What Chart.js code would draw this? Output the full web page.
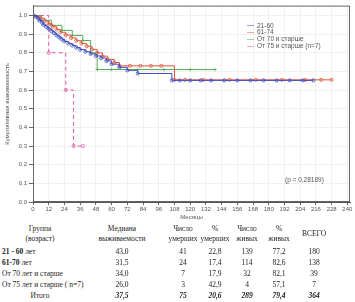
<!DOCTYPE html>
<html>
<head>
<meta charset="utf-8">
<script src="https://cdn.jsdelivr.net/npm/chart.js@4.4.1/dist/chart.umd.min.js"></script>
<style>
    body { margin: 0; background: #fff; }
    #wrap { position: relative; width: 355px; height: 302px; overflow: hidden; }
    #chartBox { position: absolute; left: 0; top: 0; width: 355px; height: 222px; }
    .lg { position: absolute; font: 6.5px "Liberation Sans", Arial, sans-serif; color: #555; white-space: nowrap; line-height: 7px; }
    .lgLine { position: absolute; height: 0; border-top: 1px solid; }
    .cell { position: absolute; font: 7.5px "Liberation Serif", "Times New Roman", serif; color: #222; white-space: nowrap; transform: translate(-50%, -50%); line-height: 9px; }
    .rowLabel { position: absolute; font: 7.5px "Liberation Serif", "Times New Roman", serif; color: #222; white-space: nowrap; transform: translateY(-50%); line-height: 9px; }
    #pText { position: absolute; left: 285px; top: 176px; font: 6.5px "Liberation Sans", Arial, sans-serif; color: #555; }
</style>
</head>
<body>
<div id="wrap">
    <div id="chartBox"><canvas id="kmChart" width="355" height="222"></canvas></div>
    <div id="legendBox"></div>
    <div id="pText">(p = 0,28189)</div>
    <div id="tableBox"></div>
</div>
<script>
// series labels
const seriesLabels = ['21-60', '61-74', 'От 70 и старше', 'От 75 и старше (n=7)'];
const seriesColors = ['#3b4cc0', '#e0563e', '#4fae4f', '#e05aa8'];

// Kaplan-Meier steps (months, cumulative survival)
const monthsA = [0, 2, 4, 5, 7, 8, 10, 12, 14, 16, 18, 20, 22, 24, 27, 30, 33, 36, 40, 44, 48, 52, 56, 60, 66, 72, 80, 106, 112, 120, 128, 136, 146, 156, 166, 176, 186, 196, 206, 214];
const survA  = [1, 0.994, 0.983, 0.972, 0.961, 0.95, 0.939, 0.928, 0.917, 0.906, 0.894, 0.883, 0.872, 0.861, 0.85, 0.839, 0.828, 0.817, 0.806, 0.794, 0.783, 0.772, 0.756, 0.739, 0.722, 0.706, 0.689, 0.652, 0.652, 0.652, 0.652, 0.652, 0.652, 0.652, 0.652, 0.652, 0.652, 0.652, 0.652, 0.652];

const monthsB = [0, 3, 6, 9, 12, 15, 18, 21, 25, 29, 33, 37, 41, 45, 49, 53, 57, 62, 66, 74, 82, 90, 98, 108, 116, 130, 150, 170, 190, 208, 220, 228];
const survB  = [1, 0.993, 0.985, 0.970, 0.955, 0.940, 0.925, 0.910, 0.895, 0.880, 0.865, 0.850, 0.835, 0.818, 0.800, 0.782, 0.764, 0.748, 0.730, 0.730, 0.730, 0.730, 0.730, 0.655, 0.655, 0.655, 0.655, 0.655, 0.655, 0.655, 0.655, 0.655];

const monthsC = [0, 6, 14, 22, 30, 38, 44, 49, 60, 80, 100, 120, 139];
const survC  = [1, 0.974, 0.947, 0.920, 0.893, 0.866, 0.80, 0.71, 0.71, 0.71, 0.71, 0.71, 0.71];

const monthsD = [0, 12, 25, 31, 38];
const survD  = [1, 0.8, 0.6, 0.3, 0.3];

const xTicks = [0, 12, 24, 36, 48, 60, 72, 84, 96, 108, 120, 132, 144, 156, 168, 180, 192, 204, 216, 228, 240];
const yTicks = [0, 0.1, 0.2, 0.3, 0.4, 0.5, 0.6, 0.7, 0.8, 0.9, 1.0];

// summary table
const tableHeaders = [['Группа', '(возраст)'], ['Медиана', 'выживаемости'], ['Число', 'умерших'], ['%', 'умерших'], ['Число', 'живых'], ['%', 'живых'], ['ВСЕГО']];
const rowBold = ['21 - 60', '61-70', '', '', ''];
const rowRest = [' лет', ' лет', 'От 70 лет и старше', 'От 75 лет и старше (  n=7)', 'Итого'];
const medianSurv = ['43,0', '31,5', '34,0', '26,0', '37,5'];
const deadCount = ['41', '24', '7', '3', '75'];
const deadPct = ['22,8', '17,4', '17,9', '42,9', '20,6'];
const aliveCount = ['139', '114', '32', '4', '289'];
const alivePct = ['77,2', '82,6', '82,1', '57,1', '79,4'];
const totalCount = ['180', '138', '39', '7', '364'];

function toPoints(months, surv) {
    return months.map((m, i) => ({ x: m, y: surv[i] }));
}

const seriesData = [toPoints(monthsA, survA), toPoints(monthsB, survB), toPoints(monthsC, survC), toPoints(monthsD, survD)];

const frameBox = {
    id: 'frameBox',
    afterDraw(chart) {
        const { ctx, chartArea } = chart;
        ctx.save();
        ctx.strokeStyle = '#666';
        ctx.lineWidth = 1;
        ctx.strokeRect(chartArea.left + 0.5, chartArea.top + 0.5, chartArea.width - 1, chartArea.height - 1);
        ctx.restore();
    }
};

const ctx = document.getElementById('kmChart').getContext('2d');
const kmChart = new Chart(ctx, {
    type: 'line',
    data: {
        datasets: seriesData.map((pts, i) => ({
            label: seriesLabels[i],
            data: pts,
            stepped: true,
            borderColor: seriesColors[i],
            borderWidth: 1,
            borderDash: i === 3 ? [4, 3] : [],
            pointRadius: 1.6,
            pointStyle: i === 2 ? 'cross' : 'circle',
            pointBorderWidth: 0.8,
            pointBorderColor: seriesColors[i],
            pointBackgroundColor: 'rgba(255,255,255,0)',
        }))
    },
    options: {
        responsive: false,
        devicePixelRatio: 1,
        animation: false,
        layout: { padding: { top: 4, right: 5, left: 0, bottom: 0 } },
        plugins: { legend: { display: false }, tooltip: { enabled: false } },
        scales: {
            x: {
                type: 'linear',
                min: 0,
                max: 242,
                afterBuildTicks: (scale) => { scale.ticks = xTicks.map(v => ({ value: v })); },
                afterFit: (scale) => { scale.height = 20; },
                ticks: { font: { size: 6, family: 'Liberation Sans' }, color: '#555', padding: 1, maxRotation: 0, autoSkip: false },
                grid: { color: '#f0f0f0', tickColor: '#666', tickLength: 3 },
                border: { color: '#555' },
                title: { display: true, text: 'Месяцы', font: { size: 6, family: 'Liberation Sans' }, color: '#555', padding: { top: 0, bottom: 1 } },
            },
            y: {
                min: 0,
                max: 1.053,
                afterBuildTicks: (scale) => { scale.ticks = yTicks.map(v => ({ value: v })); },
                afterFit: (scale) => { scale.width = 33; },
                ticks: { font: { size: 6, family: 'Liberation Sans' }, color: '#555', padding: 2, callback: (v) => v.toFixed(1) },
                grid: { color: '#f0f0f0', tickColor: '#666', tickLength: 4 },
                border: { color: '#555' },
                title: { display: true, text: 'Кумулятивная выживаемость', font: { size: 6, family: 'Liberation Sans' }, color: '#555', padding: { top: 4, bottom: 0 } },
            }
        }
    },
    plugins: [frameBox]
});

// legend
const legendBox = document.getElementById('legendBox');
const legendY = [25, 31.5, 38.5, 45.5];
seriesLabels.forEach((lab, i) => {
    const line = document.createElement('div');
    line.className = 'lgLine';
    line.style.left = '247px';
    line.style.width = '7px';
    line.style.top = legendY[i] + 'px';
    line.style.borderColor = seriesColors[i];
    line.style.opacity = '0.5';
    legendBox.appendChild(line);
    const t = document.createElement('div');
    t.className = 'lg';
    t.style.left = '257px';
    t.style.top = (legendY[i] - 3.5) + 'px';
    t.textContent = lab;
    legendBox.appendChild(t);
});

// table
const tableBox = document.getElementById('tableBox');
const colX = [40, 122, 183, 215, 247, 279, 314];
const headY = [228, 238];
const rowY = [251, 262, 273, 284, 295];

function addCell(text, x, y, cls, italic) {
    const d = document.createElement('div');
    d.className = cls;
    d.style.left = x + 'px';
    d.style.top = y + 'px';
    if (italic) { d.style.fontStyle = 'italic'; d.style.fontWeight = 'bold'; }
    d.textContent = text;
    tableBox.appendChild(d);
    return d;
}

tableHeaders.forEach((h, c) => {
    if (h.length === 2) {
        addCell(h[0], colX[c], headY[0], 'cell');
        addCell(h[1], colX[c], headY[1], 'cell');
    } else {
        addCell(h[0], colX[c], (headY[0] + headY[1]) / 2, 'cell');
    }
});

const valueCols = [medianSurv, deadCount, deadPct, aliveCount, alivePct, totalCount];
rowRest.forEach((rest, r) => {
    const last = r === rowRest.length - 1;
    if (last) {
        addCell(rest, colX[0], rowY[r], 'cell');
    } else {
        const d = addCell('', 2, rowY[r], 'rowLabel');
        if (rowBold[r]) {
            const b = document.createElement('b');
            b.textContent = rowBold[r];
            d.appendChild(b);
        }
        d.appendChild(document.createTextNode(rest));
    }
    valueCols.forEach((col, c) => addCell(col[r], colX[c + 1], rowY[r], 'cell', last));
});
</script>
</body>
</html>
